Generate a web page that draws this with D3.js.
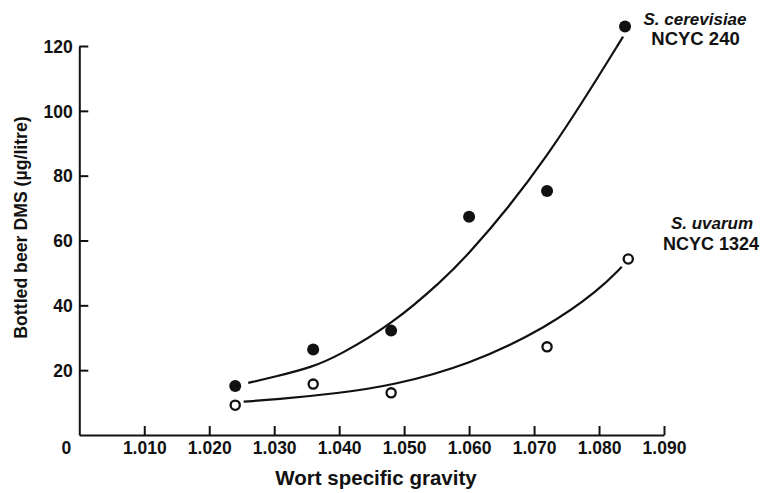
<!DOCTYPE html>
<html>
<head>
<meta charset="utf-8">
<script src="https://cdn.jsdelivr.net/npm/d3@7"></script>
<style>
  html, body { margin: 0; padding: 0; background: #fff; }
  svg { display: block; }
  text { font-family: "Liberation Sans", Arial, Helvetica, sans-serif; font-weight: bold; fill: #111; }
</style>
</head>
<body>
<div id="chart"></div>
<script>
// ---- data ----
const xTicks = [1.010, 1.020, 1.030, 1.040, 1.050, 1.060, 1.070, 1.080, 1.090];
const yTicks = [20, 40, 60, 80, 100, 120];

// S. cerevisiae NCYC 240 (filled circles)
const cerevisiaeX = [1.024, 1.036, 1.048, 1.060, 1.072, 1.084];
const cerevisiaeY = [15.1, 26.4, 32.2, 67.3, 75.3, 126.0];
// fitted curve
const cerevisiaeFitX = [1.026, 1.030, 1.036, 1.040, 1.048, 1.056, 1.060, 1.066, 1.072, 1.078, 1.0837];
const cerevisiaeFitY = [16.1, 17.9, 21.0, 24.6, 34.0, 47.8, 56.0, 70.0, 86.0, 104.4, 122.9];

// S. uvarum NCYC 1324 (open circles)
const uvarumX = [1.024, 1.036, 1.048, 1.072, 1.0845];
const uvarumY = [9.2, 15.7, 13.0, 27.2, 54.3];
const uvarumFitX = [1.0253, 1.030, 1.040, 1.048, 1.060, 1.072, 1.080, 1.0835];
const uvarumFitY = [10.3, 10.9, 12.9, 15.2, 21.6, 33.2, 44.7, 51.9];

const xTitle = "Wort specific gravity";
const yTitle = "Bottled beer DMS (\u00b5g/litre)";

// ---- layout ----
const W = 762, H = 493;
const svg = d3.select("#chart").append("svg").attr("width", W).attr("height", H);

const x = d3.scaleLinear().domain([1.000, 1.090]).range([79.3, 664]);
const y = d3.scaleLinear().domain([0, 120]).range([435, 46]);

const tickFont = "17.5px";

// axes
const xAxis = d3.axisBottom(x).tickValues(xTicks).tickFormat(d3.format(".3f"))
  .tickSizeInner(-9).tickSizeOuter(0);
const gx = svg.append("g").attr("transform", `translate(0,${y(0)})`).call(xAxis);
gx.select(".domain").attr("stroke", "#111").attr("stroke-width", 2);
gx.selectAll(".tick line").attr("stroke", "#111").attr("stroke-width", 2);
gx.selectAll(".tick text").attr("y", 18.5).attr("dy", 0)
  .style("font-size", tickFont).style("font-family", "'Liberation Sans', Arial, sans-serif")
  .style("font-weight", "bold").attr("fill", "#111");

const yAxis = d3.axisLeft(y).tickValues(yTicks).tickSizeInner(-9).tickSizeOuter(0);
const gy = svg.append("g").attr("transform", `translate(${x(1.000)},0)`).call(yAxis);
gy.select(".domain").attr("stroke", "#111").attr("stroke-width", 2);
gy.selectAll(".tick line").attr("stroke", "#111").attr("stroke-width", 2);
gy.selectAll(".tick text").attr("x", -6.5).attr("dy", "0.36em")
  .style("font-size", tickFont).style("font-family", "'Liberation Sans', Arial, sans-serif")
  .style("font-weight", "bold").attr("fill", "#111");

// origin label
svg.append("text").attr("x", x(1.000) - 13).attr("y", y(0) + 18.5)
  .attr("text-anchor", "middle").style("font-size", tickFont).text("0");

// axis titles
svg.append("text").attr("x", 376).attr("y", 485).attr("text-anchor", "middle")
  .style("font-size", "20.5px").text(xTitle);
svg.append("text").attr("transform", "translate(26.5,227.5) rotate(-90)")
  .attr("text-anchor", "middle").style("font-size", "17.7px").text(yTitle);

// fitted curves
const line = d3.line().x(d => x(d[0])).y(d => y(d[1])).curve(d3.curveBasis);
svg.append("path").datum(d3.zip(cerevisiaeFitX, cerevisiaeFitY))
  .attr("d", line).attr("fill", "none").attr("stroke", "#111").attr("stroke-width", 2.2);
svg.append("path").datum(d3.zip(uvarumFitX, uvarumFitY))
  .attr("d", line).attr("fill", "none").attr("stroke", "#111").attr("stroke-width", 2.2);

// points
svg.append("g").selectAll("circle").data(d3.zip(cerevisiaeX, cerevisiaeY)).join("circle")
  .attr("cx", d => x(d[0])).attr("cy", d => y(d[1])).attr("r", 6).attr("fill", "#111");
svg.append("g").selectAll("circle").data(d3.zip(uvarumX, uvarumY)).join("circle")
  .attr("cx", d => x(d[0])).attr("cy", d => y(d[1])).attr("r", 4.6)
  .attr("fill", "#fff").attr("stroke", "#111").attr("stroke-width", 2.3);

// series labels
const lab1 = svg.append("text").attr("text-anchor", "middle").style("font-size", "17px");
lab1.append("tspan").attr("x", 695).attr("y", 25).style("font-style", "italic").text("S. cerevisiae");
lab1.append("tspan").attr("x", 695.5).attr("y", 45).style("font-size", "18.5px").text("NCYC 240");
const lab2 = svg.append("text").attr("text-anchor", "middle").style("font-size", "17px");
lab2.append("tspan").attr("x", 712).attr("y", 229).style("font-style", "italic").text("S. uvarum");
lab2.append("tspan").attr("x", 711).attr("y", 250).style("font-size", "18px").text("NCYC 1324");
</script>
</body>
</html>
